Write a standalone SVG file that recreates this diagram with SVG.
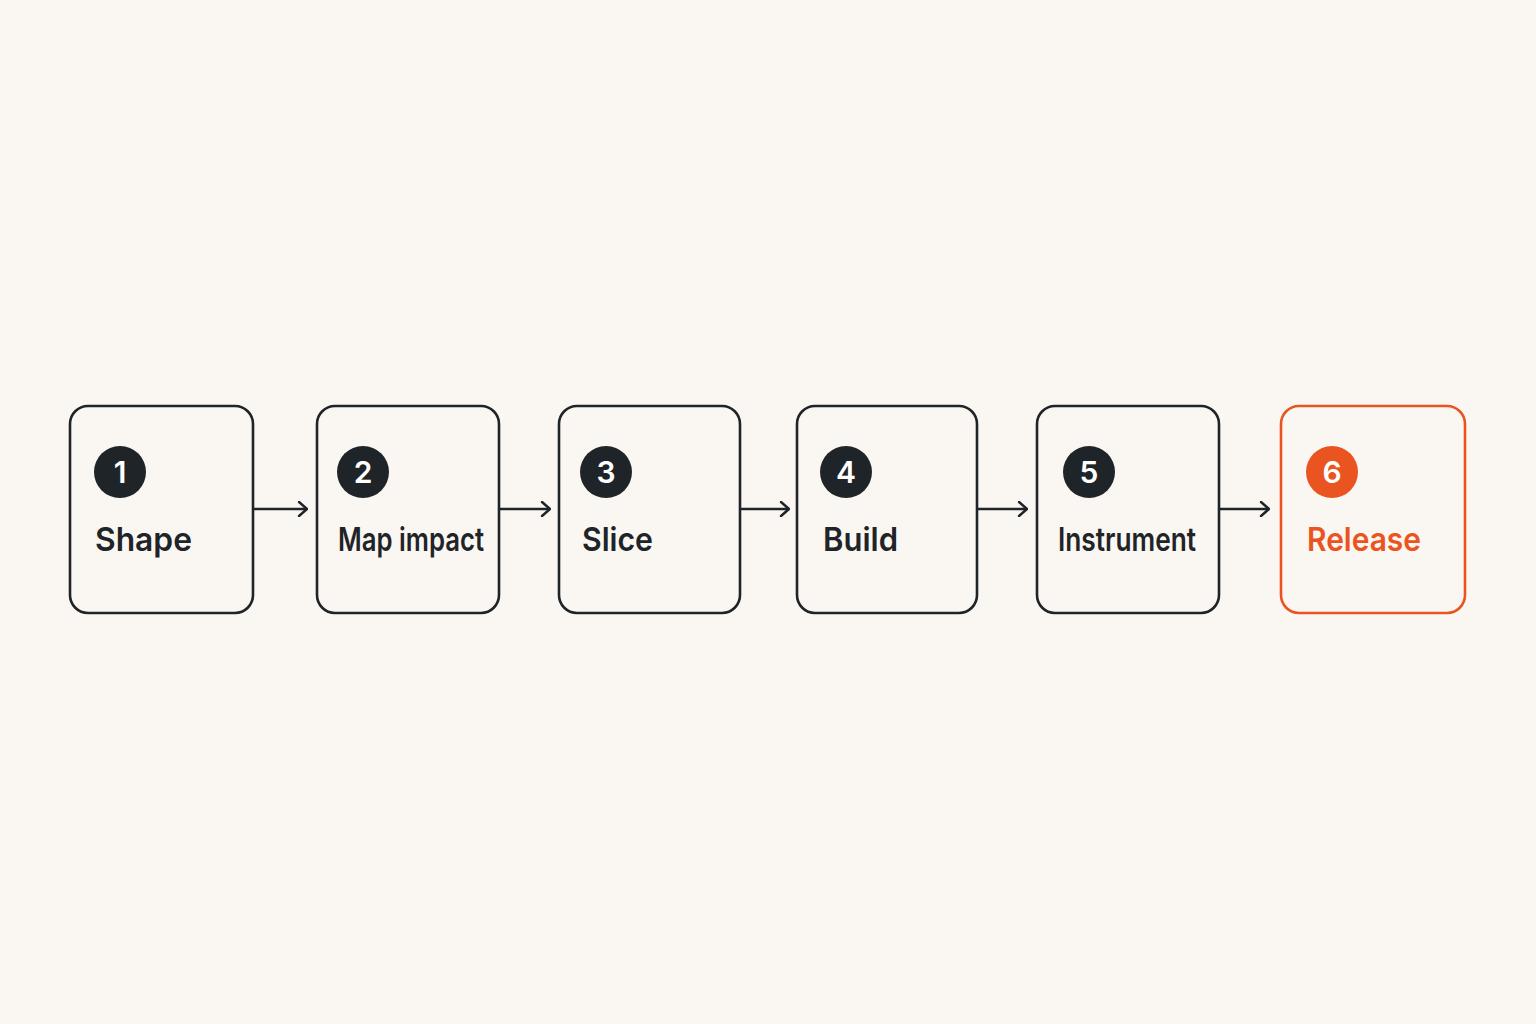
<svg xmlns="http://www.w3.org/2000/svg" width="1536" height="1024" viewBox="0 0 1536 1024">
<defs>
<style>
.box{fill:#faf7f2;stroke:#1f2428;stroke-width:2.6}
.box.hot{stroke:#ea5420}
.badge{fill:#1f2428}
.badge.hot{fill:#ea5420}
.num{font-family:Inter,"Noto Sans",sans-serif;font-weight:600;font-size:30px;fill:#ffffff;text-anchor:middle}
.lbl{font-family:Inter,"Noto Sans",sans-serif;font-weight:600;font-size:33px;fill:#1f2428}
.lbl.hot{fill:#ea5420}
.conn{stroke:#1f2428;stroke-width:2.4;fill:none;marker-end:url(#arr)}
</style>
<marker id="arr" viewBox="0 0 12 16" refX="11" refY="8" markerWidth="12" markerHeight="16" markerUnits="userSpaceOnUse" orient="auto">
<path d="M3 1 L11 8 L3 15" fill="none" stroke="#1f2428" stroke-width="2.4" stroke-linecap="round" stroke-linejoin="round"/>
</marker>
</defs>
<rect width="1536" height="1024" fill="#faf7f2"/>
<g id="connectors">
<line class="conn" x1="254" y1="509" x2="307" y2="509"/>
<line class="conn" x1="500" y1="509" x2="550" y2="509"/>
<line class="conn" x1="741" y1="509" x2="789" y2="509"/>
<line class="conn" x1="978" y1="509" x2="1027" y2="509"/>
<line class="conn" x1="1220" y1="509" x2="1269" y2="509"/>
</g>
<g id="node1">
<rect class="box" x="70" y="406" width="183" height="207" rx="18"/>
<circle class="badge" cx="120" cy="472" r="26"/>
<text class="num" x="120" y="483">1</text>
<text class="lbl" x="95" y="551" textLength="97" lengthAdjust="spacingAndGlyphs">Shape</text>
</g>
<g id="node2">
<rect class="box" x="317" y="406" width="182" height="207" rx="18"/>
<circle class="badge" cx="363" cy="472" r="26"/>
<text class="num" x="363" y="483">2</text>
<text class="lbl" x="338" y="551" textLength="146" lengthAdjust="spacingAndGlyphs">Map impact</text>
</g>
<g id="node3">
<rect class="box" x="559" y="406" width="181" height="207" rx="18"/>
<circle class="badge" cx="606" cy="472" r="26"/>
<text class="num" x="606" y="483">3</text>
<text class="lbl" x="582" y="551" textLength="71" lengthAdjust="spacingAndGlyphs">Slice</text>
</g>
<g id="node4">
<rect class="box" x="797" y="406" width="180" height="207" rx="18"/>
<circle class="badge" cx="846" cy="472" r="26"/>
<text class="num" x="846" y="483">4</text>
<text class="lbl" x="823" y="551" textLength="75" lengthAdjust="spacingAndGlyphs">Build</text>
</g>
<g id="node5">
<rect class="box" x="1037" y="406" width="182" height="207" rx="18"/>
<circle class="badge" cx="1089" cy="472" r="26"/>
<text class="num" x="1089" y="483">5</text>
<text class="lbl" x="1058" y="551" textLength="138" lengthAdjust="spacingAndGlyphs">Instrument</text>
</g>
<g id="node6">
<rect class="box hot" x="1281" y="406" width="184" height="207" rx="18"/>
<circle class="badge hot" cx="1332" cy="472" r="26"/>
<text class="num" x="1332" y="483">6</text>
<text class="lbl hot" x="1307" y="551" textLength="114" lengthAdjust="spacingAndGlyphs">Release</text>
</g>
</svg>
